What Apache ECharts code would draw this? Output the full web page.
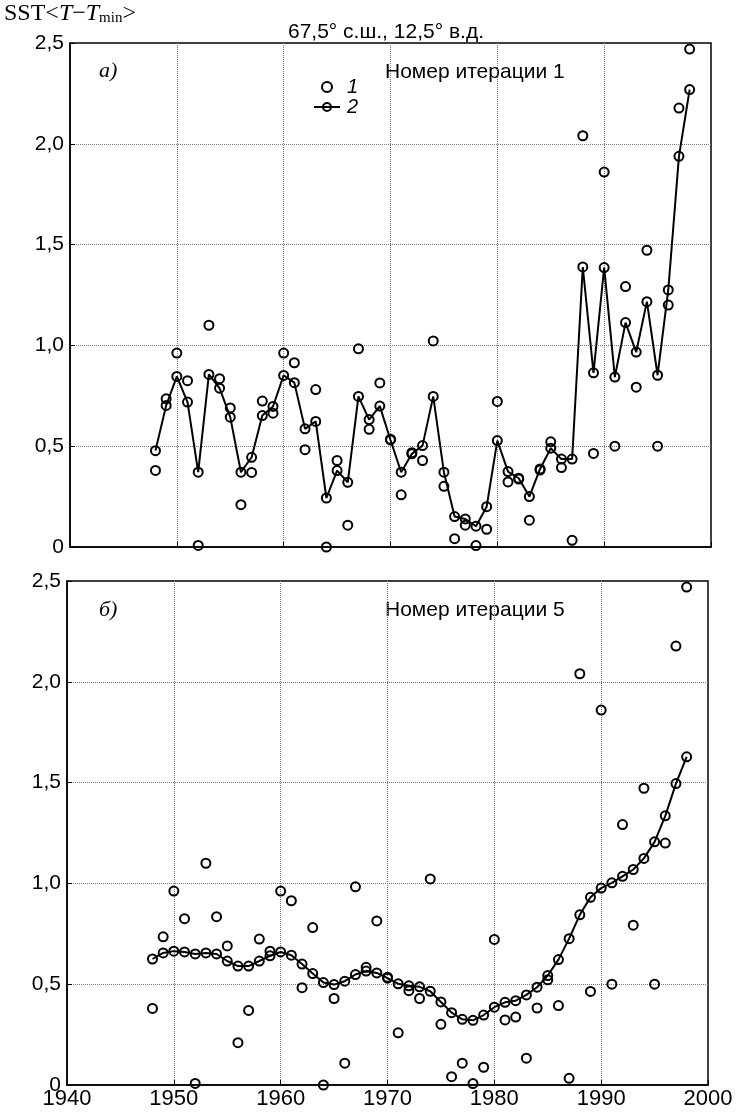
<!DOCTYPE html>
<html>
<head>
<meta charset="utf-8">
<script src="https://cdn.jsdelivr.net/npm/echarts@6/dist/echarts.min.js"></script>
<style>
  html, body { margin: 0; padding: 0; background: #fff; }
  #chart { width: 736px; height: 1112px; }
</style>
</head>
<body>
<div id="chart"></div>
<script>
// Years of observation
var years = [1948, 1949, 1950, 1951, 1952, 1953, 1954, 1955, 1956, 1957,
             1958, 1959, 1960, 1961, 1962, 1963, 1964, 1965, 1966, 1967,
             1968, 1969, 1970, 1971, 1972, 1973, 1974, 1975, 1976, 1977,
             1978, 1979, 1980, 1981, 1982, 1983, 1984, 1985, 1986, 1987,
             1988, 1989, 1990, 1991, 1992, 1993, 1994, 1995, 1996, 1997,
             1998];

// Series 1: annual SST anomaly <T - Tmin>
var sstRaw = [0.38, 0.735, 0.962, 0.825, 0.008, 1.10, 0.835, 0.69, 0.21, 0.37,
              0.724, 0.664, 0.962, 0.914, 0.483, 0.781, 0.0, 0.429, 0.108, 0.983,
              0.584, 0.814, 0.535, 0.259, 0.468, 0.429, 1.022, 0.301, 0.041, 0.108,
              0.007, 0.088, 0.722, 0.323, 0.337, 0.133, 0.382, 0.522, 0.394, 0.033,
              2.04, 0.464, 1.86, 0.50, 1.292, 0.793, 1.472, 0.50, 1.20, 2.177,
              2.47];

// Series 2, smoothing iteration 1
var sstIter1 = [0.478, 0.702, 0.846, 0.719, 0.371, 0.856, 0.788, 0.644, 0.371, 0.445,
                0.652, 0.697, 0.851, 0.815, 0.586, 0.623, 0.243, 0.379, 0.321, 0.747,
                0.632, 0.699, 0.531, 0.371, 0.462, 0.503, 0.747, 0.371, 0.151, 0.139,
                0.103, 0.20, 0.528, 0.374, 0.341, 0.25, 0.387, 0.49, 0.436, 0.436,
                1.389, 0.864, 1.386, 0.843, 1.113, 0.967, 1.217, 0.852, 1.275, 1.938,
                2.269];

// Series 2, smoothing iteration 5
var sstIter5 = [0.625, 0.655, 0.664, 0.66, 0.65, 0.655, 0.65, 0.615, 0.59, 0.59,
                0.615, 0.641, 0.66, 0.644, 0.60, 0.553, 0.508, 0.498, 0.515, 0.548,
                0.565, 0.556, 0.53, 0.502, 0.492, 0.487, 0.465, 0.412, 0.359, 0.326,
                0.321, 0.347, 0.386, 0.41, 0.418, 0.447, 0.485, 0.543, 0.622, 0.726,
                0.844, 0.931, 0.977, 1.003, 1.035, 1.069, 1.124, 1.206, 1.335, 1.495,
                1.628];

var yTicks = [0, 0.5, 1.0, 1.5, 2.0, 2.5];
var xTicks = [1940, 1950, 1960, 1970, 1980, 1990, 2000];

function pairs(xs, ys) {
  return xs.map(function (x, i) { return [x, ys[i]]; });
}

var SANS = '"Liberation Sans", Arial, sans-serif';
var SERIF = '"Liberation Serif", "Times New Roman", serif';
var FS = 21;

function yFmt(v) {
  return v === 0 ? '0' : v.toFixed(1).replace('.', ',');
}

function xAxis(gridIndex, showLabels) {
  return {
    type: 'value', gridIndex: gridIndex,
    min: xTicks[0], max: xTicks[xTicks.length - 1], interval: 10,
    axisLine: { show: true, onZero: false, lineStyle: { color: '#000', width: 1.5 } },
    axisTick: { show: true, inside: true, length: 5, lineStyle: { color: '#000', width: 1 } },
    axisLabel: { show: showLabels, color: '#000', fontFamily: SANS, fontSize: 22, margin: 3,
                 formatter: function (v) { return String(v); } },
    splitLine: { show: true, showMinLine: false, showMaxLine: false,
                 lineStyle: { color: '#777', width: 1, type: [1, 1] } }
  };
}

function yAxis(gridIndex) {
  return {
    type: 'value', gridIndex: gridIndex,
    min: yTicks[0], max: yTicks[yTicks.length - 1], interval: 0.5,
    axisLine: { show: true, onZero: false, lineStyle: { color: '#000', width: 1.5 } },
    axisTick: { show: true, inside: true, length: 5, lineStyle: { color: '#000', width: 1 } },
    axisLabel: { color: '#000', fontFamily: SANS, fontSize: FS, margin: 6, formatter: yFmt },
    splitLine: { show: true, showMinLine: false, showMaxLine: false,
                 lineStyle: { color: '#777', width: 1, type: [1, 1] } }
  };
}

var hollow = { color: 'rgba(0,0,0,0)', borderColor: '#000', borderWidth: 2, opacity: 1 };

function rawSeries(idx) {
  return {
    name: '1', type: 'scatter', xAxisIndex: idx, yAxisIndex: idx,
    data: pairs(years, sstRaw), symbol: 'circle', symbolSize: 9,
    itemStyle: hollow, z: 3
  };
}

function smoothSeries(idx, vals) {
  return {
    name: '2', type: 'line', xAxisIndex: idx, yAxisIndex: idx,
    data: pairs(years, vals), symbol: 'circle', symbolSize: 9,
    showSymbol: true, showAllSymbol: true,
    lineStyle: { color: '#000', width: 2 },
    itemStyle: hollow, z: 4
  };
}

var chart = echarts.init(document.getElementById('chart'), null, { renderer: 'canvas' });

chart.setOption({
  animation: false,
  backgroundColor: '#fff',
  grid: [
    { left: 70, top: 43, width: 641, height: 504, show: true, borderColor: '#000', borderWidth: 1.5, backgroundColor: 'transparent' },
    { left: 67, top: 581, width: 641, height: 504, show: true, borderColor: '#000', borderWidth: 1.5, backgroundColor: 'transparent' }
  ],
  xAxis: [xAxis(0, false), xAxis(1, true)],
  yAxis: [yAxis(0), yAxis(1)],
  legend: {
    left: 308, top: 72, orient: 'vertical', itemGap: 0,
    itemWidth: 26, itemHeight: 10,
    selectedMode: false,
    data: [
      { name: '1', icon: 'circle', itemStyle: hollow },
      { name: '2' }
    ],
    textStyle: { fontFamily: SANS, fontStyle: 'italic', fontSize: 20, color: '#000', padding: [0, 0, 0, 2] }
  },
  graphic: [
    {
      type: 'text', left: 4, top: 2,
      style: {
        text: '{n|SST<}{i|T}{n|−}{i|T}{s|min}{n|>}',
        rich: {
          n: { fontFamily: SERIF, fontSize: 24, fill: '#000', verticalAlign: 'bottom', lineHeight: 26 },
          i: { fontFamily: SERIF, fontSize: 24, fontStyle: 'italic', fill: '#000', verticalAlign: 'bottom', lineHeight: 26 },
          s: { fontFamily: SERIF, fontSize: 15, fill: '#000', verticalAlign: 'bottom', lineHeight: 17 }
        }
      }
    },
    {
      type: 'text', left: 288, top: 22,
      style: { text: '67,5° с.ш., 12,5° в.д.', fontFamily: SANS, fontSize: 21, fill: '#000' }
    },
    {
      type: 'text', left: 99, top: 60,
      style: { text: 'а)', fontFamily: SERIF, fontStyle: 'italic', fontSize: 22, fill: '#000' }
    },
    {
      type: 'text', left: 385, top: 62,
      style: { text: 'Номер итерации 1', fontFamily: SANS, fontSize: FS, fill: '#000' }
    },
    {
      type: 'text', left: 99, top: 599,
      style: { text: 'б)', fontFamily: SERIF, fontStyle: 'italic', fontSize: 22, fill: '#000' }
    },
    {
      type: 'text', left: 385, top: 600,
      style: { text: 'Номер итерации 5', fontFamily: SANS, fontSize: FS, fill: '#000' }
    }
  ],
  series: [
    rawSeries(0),
    smoothSeries(0, sstIter1),
    rawSeries(1),
    smoothSeries(1, sstIter5)
  ]
});
</script>
</body>
</html>
